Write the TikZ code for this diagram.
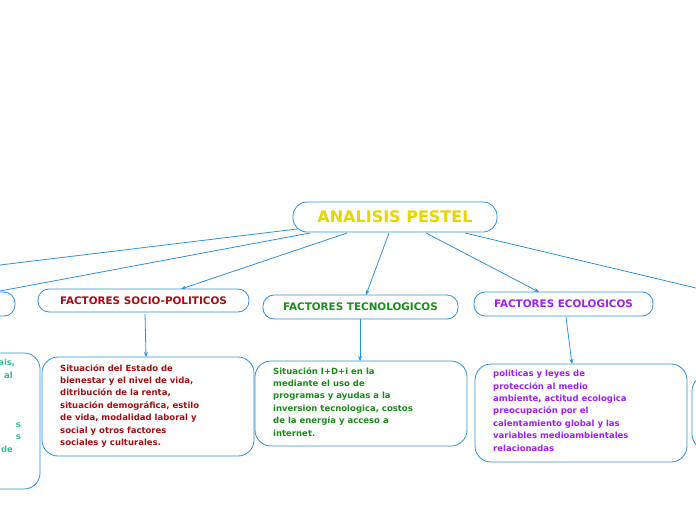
\documentclass[tikz,border=0pt]{standalone}
\usepackage{fontspec}
\setmainfont{DejaVu Sans}
\usetikzlibrary{arrows.meta}
\definecolor{ln}{HTML}{2D93DB}
\definecolor{cred}{HTML}{A30F12}
\definecolor{cgreen}{HTML}{1C8C1C}
\definecolor{cpurp}{HTML}{A020F0}
\definecolor{cteal}{HTML}{3DBB9B}
\definecolor{cyel}{HTML}{E8D600}
\tikzset{x=1pt,y=-1pt,
 box/.style={draw=ln,rounded corners=11pt,line width=0.8pt,fill=white},
 big/.style={draw=ln,rounded corners=16pt,line width=0.8pt,fill=white},
 con/.style={draw=ln,line width=0.8pt},
 arr/.style={con,-{Stealth[length=5pt,width=4pt]}},
 lab/.style={font=\bfseries\fontsize{10.4}{11}\selectfont},
 txt/.style={font=\bfseries\fontsize{8.5}{12.4}\selectfont,align=left,anchor=north west,inner sep=0pt}}
\begin{document}
\begin{tikzpicture}
\useasboundingbox (0,0) rectangle (696,520);
\clip (0,0) rectangle (696,520);
% connectors
\coordinate (l1) at (0,265);
\coordinate (l2) at (0,291);
\coordinate (r1) at (696,288);
\draw[con] (297,229) -- (l1);
\draw[con] (310,233) -- (l2);
\draw[arr] (347,233) -- (181,289);
\draw[arr] (389,233) -- (366,295);
\draw[arr] (426,233) -- (539,292);
\draw[con] (465,233) -- (r1);
\draw[arr] (145,314) -- (146,357);
\draw[arr] (360,319) -- (360,361);
\draw[arr] (566,317) -- (572,364);
% main
\draw[box,rounded corners=14pt] (293,202) rectangle (497,232);
\node[font=\bfseries\fontsize{16}{18}\selectfont,text=cyel] (main) at (395,217) {ANALISIS PESTEL};
% level 1
\draw[box] (-40,292) rectangle (15,316);
\draw[box] (38,289) rectangle (249,312);
\node[lab,text=cred] (soc) at (143.5,300.5) {FACTORES SOCIO-POLITICOS};
\draw[box] (263,295) rectangle (458,319);
\node[lab,text=cgreen] (tec) at (360.5,307) {FACTORES TECNOLOGICOS};
\draw[box] (474,292) rectangle (653,316);
\node[lab,text=cpurp] (eco) at (563.5,304) {FACTORES ECOLOGICOS};
% details
\draw[big] (-160,353) rectangle (40,489);
\node[font=\bfseries\fontsize{8.5}{12.4}\selectfont,text=cteal,align=left,anchor=north west,inner sep=0pt] (lt) at (-8,359) {\phantom{p}ais,\\\phantom{de}al\\[37pt]\phantom{dede}s\\\phantom{dede}s\\\phantom{d}\,\,de};
\draw[big] (42,357) rectangle (254,456);
\node[txt,text=cred] (sd) at (60,364) {Situación del Estado de\\bienestar y el nivel de vida,\\ditribución de la renta,\\situación demográfica, estilo\\de vida, modalidad laboral y\\social y otros factores\\sociales y culturales.};
\draw[big] (255,361) rectangle (467,446);
\node[txt,text=cgreen] (td) at (273,367) {Situación I+D+i en la\\mediante el uso de\\programas y ayudas a la\\inversion tecnologica, costos\\de la energía y acceso a\\internet.};
\draw[big] (475,364) rectangle (687,462);
\node[txt,text=cpurp] (ed) at (493,370) {politicas y leyes de\\protección al medio\\ambiente, actitud ecologica\\preocupación por el\\calentamiento global y las\\variables medioambientales\\relacionadas};
\draw[big] (692,375) rectangle (900,450);
\end{tikzpicture}
\end{document}
